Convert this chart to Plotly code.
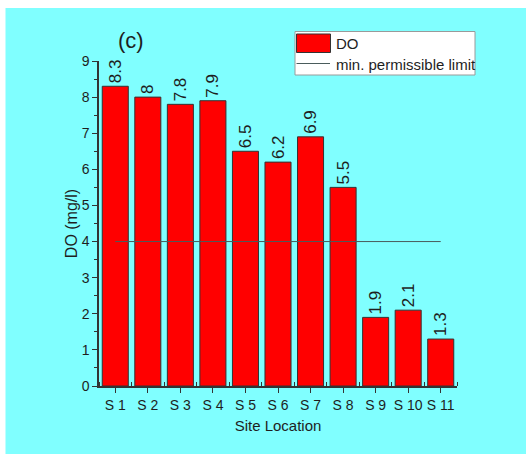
import plotly.graph_objects as go

# Dissolved oxygen by sampling site
sites = ["S 1", "S 2", "S 3", "S 4", "S 5", "S 6", "S 7", "S 8", "S 9", "S 10", "S 11"]
do_values = [8.3, 8, 7.8, 7.9, 6.5, 6.2, 6.9, 5.5, 1.9, 2.1, 1.3]
min_limit = 4
y_ticks = [0, 1, 2, 3, 4, 5, 6, 7, 8, 9]

W, H = 526, 454
L, R, T, B = 99, 69, 61, 68
PW, PH = W - L - R, H - T - B

FONT = "Liberation Sans, Arial, sans-serif"
INK = "#1e1e1e"
CYAN = "#80FFFF"
LIMIT_COLOR = "#4a5c5c"


def px_x(p):
    return (p - L) / PW


def px_y(p):
    return (H - B - p) / PH


xs = list(range(len(sites)))

fig = go.Figure()
fig.add_trace(go.Bar(
    x=xs, y=do_values, width=0.8,
    marker=dict(color="#FF0000", line=dict(color="#333333", width=1)),
    text=[f"{v:g}" for v in do_values],
    textposition="outside", textangle=-90, constraintext="none",
    textfont=dict(family=FONT, size=17, color=INK),
    cliponaxis=False, showlegend=False,
))
fig.add_trace(go.Scatter(
    x=[xs[0], xs[-1]], y=[min_limit, min_limit], mode="lines",
    line=dict(color=LIMIT_COLOR, width=1), showlegend=False,
))

shapes = [
    # cyan panel behind everything
    dict(type="rect", xref="paper", yref="paper", layer="below",
         x0=px_x(5.5), x1=px_x(W + 2), y0=px_y(H + 2), y1=px_y(8),
         fillcolor=CYAN, line=dict(width=0)),
    # legend box
    dict(type="rect", xref="paper", yref="paper",
         x0=px_x(295), x1=px_x(475), y0=px_y(75), y1=px_y(31.5),
         fillcolor="white", line=dict(color="#9a9a9a", width=1)),
    dict(type="rect", xref="paper", yref="paper",
         x0=px_x(296.5), x1=px_x(330.5), y0=px_y(52.5), y1=px_y(34),
         fillcolor="#FF0000", line=dict(color="#333333", width=1)),
    dict(type="line", xref="paper", yref="paper",
         x0=px_x(296.5), x1=px_x(330), y0=px_y(63.5), y1=px_y(63.5),
         line=dict(color=LIMIT_COLOR, width=1)),
]

annotations = [
    dict(text="(c)", xref="paper", yref="paper", x=px_x(131), y=px_y(40),
         xanchor="center", yanchor="middle", showarrow=False,
         font=dict(family=FONT, size=22, color=INK)),
    dict(text="DO", xref="paper", yref="paper", x=px_x(334), y=px_y(43.5),
         xanchor="left", yanchor="middle", showarrow=False,
         font=dict(family=FONT, size=15, color=INK)),
    dict(text="min. permissible limit", xref="paper", yref="paper",
         x=px_x(334), y=px_y(64), xanchor="left", yanchor="middle",
         showarrow=False, font=dict(family=FONT, size=15, color=INK)),
]

fig.update_layout(
    width=W, height=H,
    margin=dict(l=L, r=R, t=T, b=B, pad=0),
    paper_bgcolor="white", plot_bgcolor=CYAN,
    font=dict(family=FONT, color=INK),
    shapes=shapes, annotations=annotations,
    bargap=0.2,
    xaxis=dict(
        range=[-0.5, len(sites) - 0.5], tickmode="array",
        tickvals=xs, ticktext=sites,
        ticks="outside", ticklen=5, tickwidth=1, tickcolor="#333333",
        minor=dict(tickmode="linear", tick0=0.5, dtick=1, ticks="inside",
                   ticklen=4, tickwidth=1, tickcolor="#333333"),
        showline=True, linecolor="#333333", linewidth=1.5,
        showgrid=False, zeroline=False,
        tickfont=dict(family=FONT, size=14, color=INK),
        title=dict(text="Site Location", standoff=9,
                   font=dict(family=FONT, size=15, color=INK)),
    ),
    yaxis=dict(
        range=[0, 9], tickmode="array", tickvals=y_ticks,
        ticks="outside", ticklen=5, tickwidth=1, tickcolor="#333333",
        minor=dict(tickmode="linear", tick0=0.5, dtick=1, ticks="outside",
                   ticklen=3, tickwidth=1, tickcolor="#333333"),
        showline=True, linecolor="#333333", linewidth=1.5,
        showgrid=False, zeroline=False,
        tickfont=dict(family=FONT, size=14, color=INK),
        title=dict(text="DO (mg/l)", standoff=0,
                   font=dict(family=FONT, size=16, color=INK)),
    ),
)

fig.write_html("out.html")
